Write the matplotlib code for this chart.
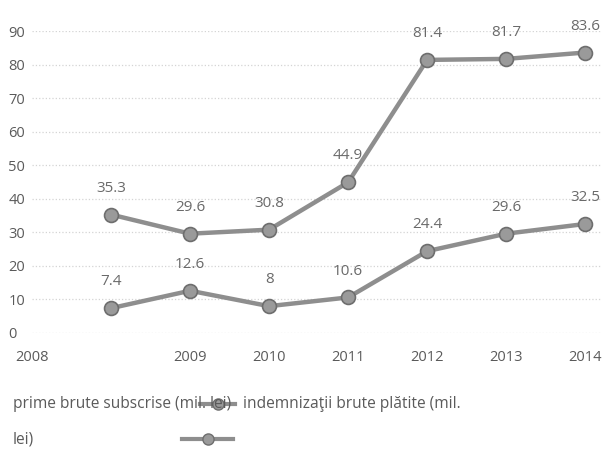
import matplotlib.pyplot as plt
from matplotlib.lines import Line2D

plt.rcParams['font.family'] = ['Open Sans', 'DejaVu Sans']

# data
years = ['2008', '2009', '2010', '2011', '2012', '2013', '2014']
prime_brute = [35.3, 29.6, 30.8, 44.9, 81.4, 81.7, 83.6]
indemnizatii = [7.4, 12.6, 8, 10.6, 24.4, 29.6, 32.5]
prime_labels = ['35.3', '29.6', '30.8', '44.9', '81.4', '81.7', '83.6']
indem_labels = ['7.4', '12.6', '8', '10.6', '24.4', '29.6', '32.5']
legend_names = ['prime brute subscrise (mil. lei)',
                'indemnizaţii brute plătite (mil.', 'lei)']

text_col = '#5a5a5a'
label_col = '#6a6a6a'
line_col = '#8e8e8e'
edge_col = '#6e6e6e'

fig = plt.figure(figsize=(6.04, 4.5), dpi=100)
ax = fig.add_axes([0.053, 0.26, 0.942, 0.671])

x = list(range(1, len(prime_brute) + 1))
for vals, labs in [(prime_brute, prime_labels), (indemnizatii, indem_labels)]:
    ax.plot(x, vals, color=line_col, lw=3.2, marker='o', markersize=10,
            markerfacecolor='#9a9a9a', markeredgecolor=edge_col,
            markeredgewidth=1.2, zorder=3)
    for xi, v, lab in zip(x, vals, labs):
        ax.annotate(lab, (xi, v), xytext=(0, 19), textcoords='offset points',
                    ha='center', va='center', fontsize=11, color=label_col,
                    annotation_clip=False)

ax.set_xlim(0, 7.2)
ax.set_ylim(0, 90)
ax.set_yticks(range(0, 100, 10))
# first year label sits at the axis origin in the original
ax.set_xticks([0] + x[1:])
ax.set_xticklabels(years)
ax.tick_params(axis='both', length=0, labelsize=10.5, colors=text_col)
ax.tick_params(axis='x', pad=12)
for lab in ax.get_yticklabels():
    lab.set_horizontalalignment('left')
    lab.set_x(-0.033)

for s in ax.spines.values():
    s.set_visible(False)
ax.yaxis.grid(True, color='#d4d4d4', linestyle=':', lw=0.9)
ax.set_axisbelow(True)

# legend drawn as text with line keys
fig.text(13 / 604, 1 - 404 / 450, legend_names[0], fontsize=11.2,
         color=text_col, va='center', ha='left')
fig.text(243 / 604, 1 - 404 / 450, legend_names[1], fontsize=11.2,
         color=text_col, va='center', ha='left')
fig.text(13 / 604, 1 - 439 / 450, legend_names[2], fontsize=11.2,
         color=text_col, va='center', ha='left')
for y0, x0, x1 in [(404, 200, 235), (439, 182, 233)]:
    fig.add_artist(Line2D([x0 / 604, x1 / 604], [1 - y0 / 450, 1 - y0 / 450],
                          transform=fig.transFigure, color=line_col, lw=3))
    fig.add_artist(Line2D([(x0 + x1) / 2 / 604], [1 - y0 / 450],
                          transform=fig.transFigure, marker='o', markersize=8,
                          markerfacecolor='#9a9a9a', markeredgecolor=edge_col))

fig.savefig('out.png', dpi=100)
